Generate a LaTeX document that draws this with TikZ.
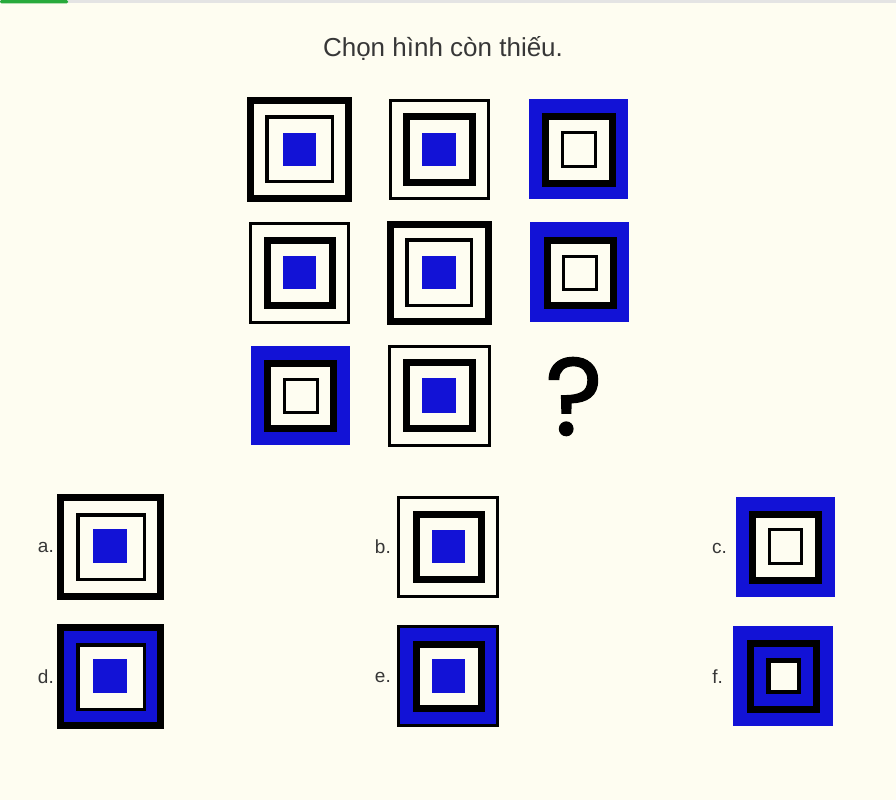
\documentclass[tikz,border=0pt]{standalone}
\usepackage{fontspec}
\setmainfont{Liberation Sans}
\newfontfamily\qfont[FakeBold=1.2]{Poppins}
\definecolor{bg}{RGB}{254,253,241}
\definecolor{myblue}{RGB}{18,18,214}
\definecolor{txt}{RGB}{55,55,55}
\definecolor{barg}{RGB}{228,228,228}
\definecolor{bargreen}{RGB}{40,170,60}
\newcommand{\frm}[7]{%
  \fill[#6] (#1,#2) rectangle (#3,#4);
  \fill[#7] ({#1+#5},{#2+#5}) rectangle ({#3-#5},{#4-#5});
}
\newcommand{\solid}[5]{\fill[#5] (#1,#2) rectangle (#3,#4);}
\begin{document}
\begin{tikzpicture}[x=1pt,y=-1pt,
  lbl/.style={font=\fontsize{19}{22}\selectfont, text=txt, anchor=east, inner sep=0pt}]
\useasboundingbox (0,0) rectangle (896,800);
\fill[bg] (0,0) rectangle (896,800);
\fill[barg] (0,0) rectangle (896,3.5);
\fill[bargreen, rounded corners=1.5pt] (0,0) rectangle (68,3.5);

\node[font=\fontsize{26}{30}\selectfont, text=txt] (title) at (443,48) {Chọn hình còn thiếu.};

% Row 1
\frm{247}{97}{352}{202}{7}{black}{bg}
\frm{265}{115}{334}{183}{3.5}{black}{bg}
\solid{283}{133}{316}{166}{myblue}

\frm{389}{99}{490}{200}{3}{black}{bg}
\frm{403}{113}{476}{186}{7}{black}{bg}
\solid{422}{133}{456}{166}{myblue}

\solid{529}{99}{628}{199}{myblue}
\frm{542}{113}{616}{187}{7}{black}{bg}
\frm{561}{131}{597}{168}{3}{black}{bg}

% Row 2
\frm{249}{222}{350}{324}{3}{black}{bg}
\frm{264}{237}{336}{309}{7}{black}{bg}
\solid{283}{256}{316}{289}{myblue}

\frm{387}{221}{492}{325}{7}{black}{bg}
\frm{405}{238}{473}{307}{3.5}{black}{bg}
\solid{422}{256}{456}{289}{myblue}

\solid{530}{222}{629}{322}{myblue}
\frm{544}{237}{617}{309}{7}{black}{bg}
\frm{562}{255}{598}{291}{3}{black}{bg}

% Row 3
\solid{251}{346}{350}{445}{myblue}
\frm{264}{360}{337}{432}{7}{black}{bg}
\frm{283}{378}{319}{414}{3}{black}{bg}

\frm{388}{345}{491}{447}{3}{black}{bg}
\frm{403}{359}{476}{432}{7}{black}{bg}
\solid{422}{378}{456}{413}{myblue}

\node[font=\qfont\fontsize{110}{112}\selectfont, inner sep=0pt, anchor=base] (qm) at (574,435) {?};

% Options
\node[lbl] (la) at (54,547) {a.};
\frm{57}{494}{164}{600}{7}{black}{bg}
\frm{76}{513}{146}{581}{3.5}{black}{bg}
\solid{93}{529}{127}{563}{myblue}

\node[lbl] (lb) at (391,547) {b.};
\frm{397}{496}{499}{598}{3}{black}{bg}
\frm{413}{511}{485}{583}{7}{black}{bg}
\solid{432}{530}{465}{563}{myblue}

\node[lbl] (lc) at (727,548) {c.};
\solid{736}{497}{835}{597}{myblue}
\frm{749}{511}{822}{584}{7}{black}{bg}
\frm{768}{528}{803}{565}{3}{black}{bg}

\node[lbl] (ld) at (54,677) {d.};
\frm{57}{624}{164}{729}{7}{black}{myblue}
\frm{76}{643}{146}{711}{3.5}{black}{bg}
\solid{93}{659}{127}{693}{myblue}

\node[lbl] (le) at (391,677) {e.};
\frm{397}{625}{499}{727}{3}{black}{myblue}
\frm{413}{641}{485}{712}{7}{black}{bg}
\solid{432}{659}{465}{693}{myblue}

\node[lbl] (lf) at (723,677) {f.};
\solid{733}{626}{833}{726}{myblue}
\frm{747}{640}{820}{713}{7}{black}{myblue}
\frm{766}{658}{801}{694}{4.5}{black}{bg}
\end{tikzpicture}
\end{document}
